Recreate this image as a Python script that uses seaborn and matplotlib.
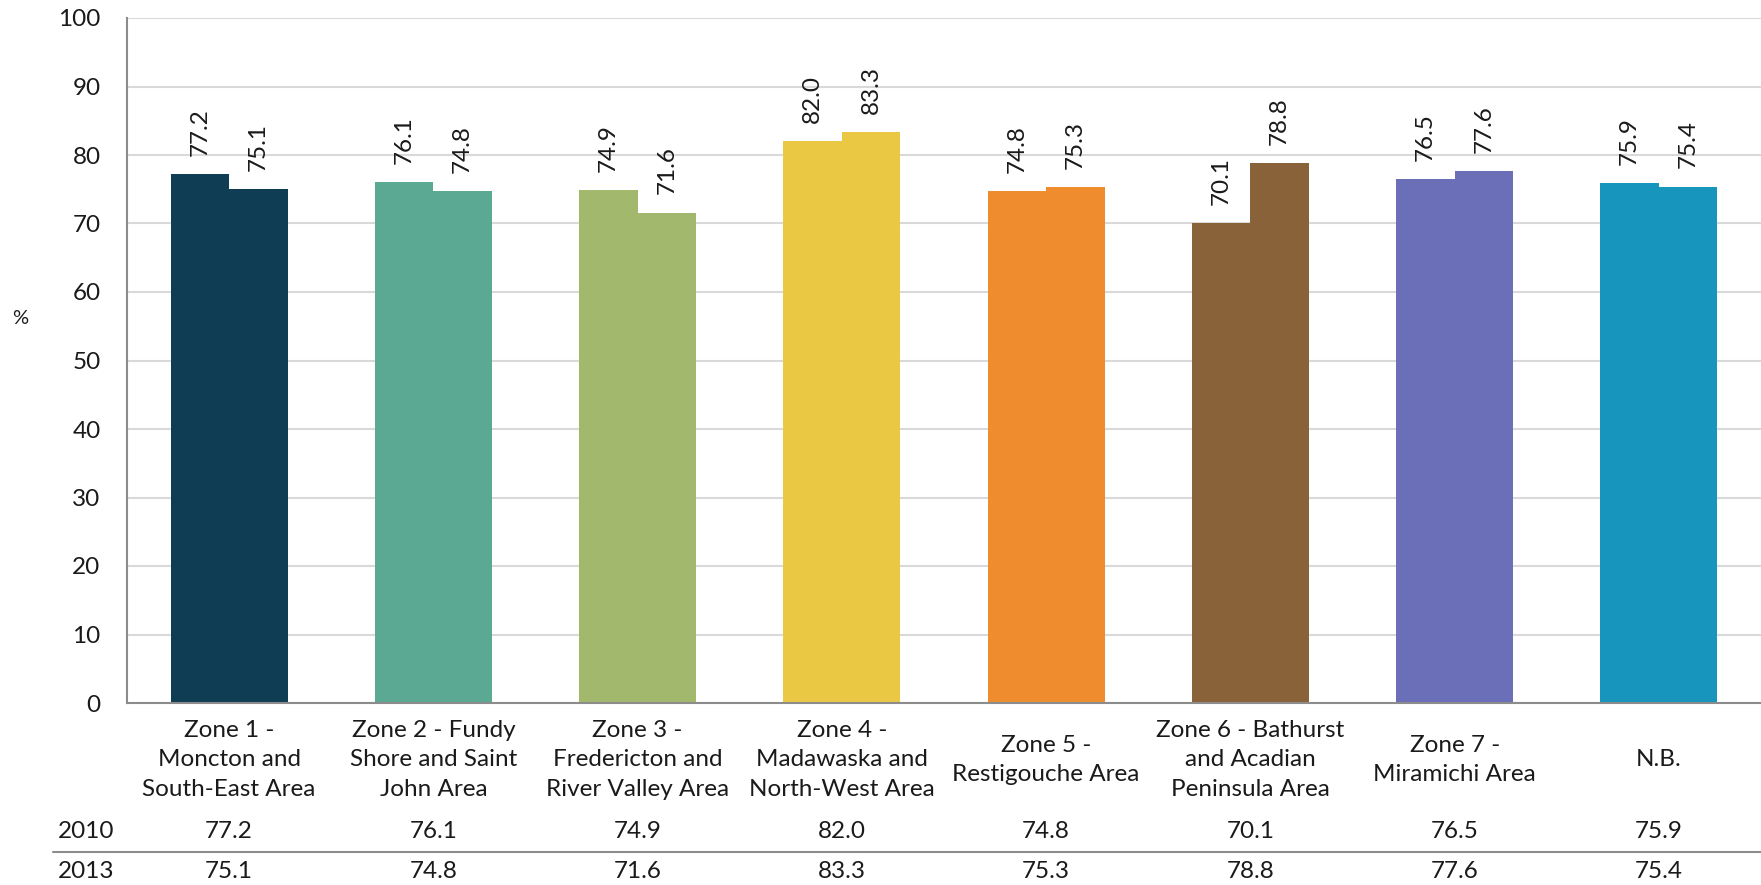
import matplotlib
matplotlib.use("Agg")
import matplotlib.pyplot as plt
import matplotlib.transforms as mtransforms
import seaborn as sns
import pandas as pd

categories = [
    "Zone 1 -\nMoncton and\nSouth-East Area",
    "Zone 2 - Fundy\nShore and Saint\nJohn Area",
    "Zone 3 -\nFredericton and\nRiver Valley Area",
    "Zone 4 -\nMadawaska and\nNorth-West Area",
    "Zone 5 -\nRestigouche Area",
    "Zone 6 - Bathurst\nand Acadian\nPeninsula Area",
    "Zone 7 -\nMiramichi Area",
    "N.B.",
]
years = ["2010", "2013"]
values_2010 = [77.2, 76.1, 74.9, 82.0, 74.8, 70.1, 76.5, 75.9]
values_2013 = [75.1, 74.8, 71.6, 83.3, 75.3, 78.8, 77.6, 75.4]
colors = ["#0F3D53", "#5BA893", "#A2B86C", "#EBC844", "#EF8C2E", "#8A6239", "#6A6FB8", "#1795BC"]

df = pd.DataFrame({
    "category": categories * 2,
    "year": [years[0]] * len(categories) + [years[1]] * len(categories),
    "value": values_2010 + values_2013,
})

sns.set_theme(style="white")
plt.rcParams["font.family"] = ["Lato", "DejaVu Sans"]
FS = 17.5
TXT = "#1a1a1a"

fig = plt.figure(figsize=(17.61, 8.85), dpi=100)
ax = fig.add_axes([127 / 1761, 182 / 885, 1 - 127 / 1761, (703 - 18) / 885])

sns.barplot(data=df, x="category", y="value", hue="year", order=categories,
            hue_order=years, width=0.573, gap=0, dodge=True, ax=ax,
            legend=False, errorbar=None, saturation=1)

n = len(categories)
for i, p in enumerate(ax.patches[: 2 * n]):
    p.set_facecolor(colors[i % n])
    p.set_edgecolor("none")

# data labels
for p, v in zip(ax.patches[: 2 * n], values_2010 + values_2013):
    ax.annotate(f"{v:.1f}", (p.get_x() + p.get_width() / 2, p.get_height()),
                xytext=(0, 13), textcoords="offset points", rotation=90,
                ha="center", va="bottom", fontsize=FS, color=TXT)

ax.set_ylim(0, 100)
ax.set_xlim(-0.5, n - 0.5)
ax.set_yticks(range(0, 101, 10))
ax.yaxis.grid(True, color="#D9D9D9", linewidth=1.5)
ax.set_axisbelow(True)
ax.tick_params(axis="y", length=0, pad=19, labelsize=FS, labelcolor=TXT)
ax.tick_params(axis="x", length=0, labelbottom=False)
ax.set_xlabel("")
ax.set_ylabel("")
for s in ["top", "right"]:
    ax.spines[s].set_visible(False)
for s in ["left", "bottom"]:
    ax.spines[s].set_color("#8C8C8C")
    ax.spines[s].set_linewidth(1.5)

# category labels and table
trans = mtransforms.blended_transform_factory(ax.transData, fig.transFigure)
for i, c in enumerate(categories):
    ax.text(i, 1 - 760 / 885, c, transform=trans, ha="center", va="center",
            fontsize=FS, color=TXT, linespacing=1.5)
    ax.text(i, 1 - 832 / 885, f"{values_2010[i]:.1f}", transform=trans,
            ha="center", va="center", fontsize=FS, color=TXT)
    ax.text(i, 1 - 872 / 885, f"{values_2013[i]:.1f}", transform=trans,
            ha="center", va="center", fontsize=FS, color=TXT)

fig.text(58 / 1761, 1 - 832 / 885, years[0], ha="left", va="center", fontsize=FS, color=TXT)
fig.text(58 / 1761, 1 - 872 / 885, years[1], ha="left", va="center", fontsize=FS, color=TXT)
fig.add_artist(plt.Line2D([53 / 1761, 1.0], [1 - 852 / 885, 1 - 852 / 885],
                          transform=fig.transFigure, color="#8C8C8C", linewidth=1.5))

fig.text(20 / 1761, 1 - 318 / 885, "%", ha="center", va="center", fontsize=FS - 3, color=TXT)

fig.savefig("out.png", dpi=100)
